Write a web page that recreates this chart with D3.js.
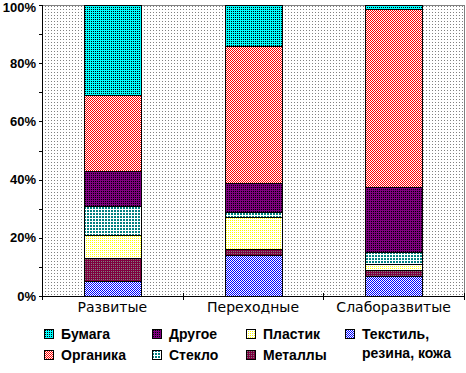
<!DOCTYPE html>
<html>
<head>
<meta charset="utf-8">
<script src="https://cdn.jsdelivr.net/npm/d3@7"></script>
<style>
  body { margin: 0; background: #fff; }
  text { font-family: "Liberation Sans", Arial, sans-serif; }
</style>
</head>
<body>
<script>
// categories and series (bottom to top in each bar)
const categories = ["Развитые", "Переходные", "Слаборазвитые"];
const seriesNames = ["Текстиль", "Металлы", "Пластик", "Стекло", "Другое", "Органика", "Бумага"];

const textile = [5, 14, 7];
const metals = [8, 2, 2];
const plastic = [8, 11, 2];
const glass = [10, 2, 4];
const other = [12, 10, 22.5];
const organic = [26, 47, 61];
const paper = [31, 14, 1.5];

const yTicks = [0, 0.1, 0.2, 0.3, 0.4, 0.5, 0.6, 0.7, 0.8, 0.9, 1];

const legendRows = [
    ["Бумага", "Другое", "Пластик", "Текстиль"],
    ["Органика", "Стекло", "Металлы"]
];
const legendLabels = {
    "Бумага": ["Бумага"],
    "Другое": ["Другое"],
    "Пластик": ["Пластик"],
    "Текстиль": ["Текстиль,", "резина, кожа"],
    "Органика": ["Органика"],
    "Стекло": ["Стекло"],
    "Металлы": ["Металлы"]
};

const table = categories.map((c, i) => ({
    category: c,
    "Текстиль": textile[i],
    "Металлы": metals[i],
    "Пластик": plastic[i],
    "Стекло": glass[i],
    "Другое": other[i],
    "Органика": organic[i],
    "Бумага": paper[i]
}));

const width = 466, height = 373;
const svg = d3.select("body").append("svg")
    .attr("width", width)
    .attr("height", height);

const defs = svg.append("defs");

// pixel patterns: background colour + list of [x, y, w, h, colour]
function makePattern(id, size, bg, cells) {
    const p = defs.append("pattern")
        .attr("id", id)
        .attr("patternUnits", "userSpaceOnUse")
        .attr("width", size[0])
        .attr("height", size[1]);
    p.append("rect").attr("width", size[0]).attr("height", size[1]).attr("fill", bg);
    cells.forEach(c => {
        p.append("rect")
            .attr("x", c[0]).attr("y", c[1])
            .attr("width", c[2]).attr("height", c[3])
            .attr("fill", c[4])
            .attr("shape-rendering", "crispEdges");
    });
}

makePattern("p-bg", [3, 3], "#ffffff", [[0, 0, 1, 1, "#808080"]]);
makePattern("p-Бумага", [2, 2], "#00ffff", [[1, 1, 1, 1, "#000000"]]);
makePattern("p-Органика", [2, 2], "#ffffff", [[0, 0, 1, 1, "#ff0000"], [1, 1, 1, 1, "#ff0000"]]);
makePattern("p-Другое", [2, 2], "#800080", [[1, 1, 1, 1, "#000000"]]);
makePattern("p-Стекло", [3, 3], "#ffffff", [[0, 0, 2, 2, "#008080"]]);
makePattern("p-Пластик", [2, 2], "#ffffff", [[0, 0, 1, 1, "#ffff00"]]);
makePattern("p-Металлы", [2, 2], "#800040", [[1, 1, 1, 1, "#808080"]]);
makePattern("p-Текстиль", [2, 2], "#ffffff", [[0, 0, 1, 1, "#0000ff"], [1, 1, 1, 1, "#0000ff"]]);

const plot = { left: 42, right: 464, top: 5, bottom: 296 };

const x = d3.scaleBand()
    .domain(categories)
    .range([plot.left, plot.right])
    .padding(0);

const y = d3.scaleLinear()
    .domain([0, 1])
    .range([plot.bottom, plot.top]);

// plot background and frame
svg.append("rect")
    .attr("x", plot.left)
    .attr("y", plot.top)
    .attr("width", plot.right - plot.left)
    .attr("height", plot.bottom - plot.top)
    .attr("fill", "url(#p-bg)");

svg.append("path")
    .attr("d", `M${plot.left},${plot.top + 0.5}H${plot.right + 0.5}V${plot.bottom}`)
    .attr("fill", "none")
    .attr("stroke", "#808080")
    .attr("shape-rendering", "crispEdges");

// stacked bars
const stack = d3.stack().keys(seriesNames).offset(d3.stackOffsetExpand);
const layers = stack(table);

const barWidth = 57;

svg.append("g").selectAll("g")
    .data(layers)
    .join("g")
    .attr("fill", d => `url(#p-${d.key})`)
    .selectAll("rect")
    .data(d => d)
    .join("rect")
    .attr("x", d => Math.round(x(d.data.category) + x.bandwidth() / 2 - barWidth / 2) + 0.5)
    .attr("y", d => Math.round(y(d[1])) + 0.5)
    .attr("width", barWidth)
    .attr("height", d => Math.round(y(d[0])) - Math.round(y(d[1])))
    .attr("stroke", "#000")
    .attr("stroke-width", 1)
    .attr("shape-rendering", "crispEdges");

// y axis
const yAxis = d3.axisLeft(y)
    .tickValues(yTicks)
    .tickSize(3)
    .tickPadding(3)
    .tickFormat(d => (Math.round(d * 100) % 20 === 0 ? Math.round(d * 100) + "%" : ""));

const yg = svg.append("g")
    .attr("transform", `translate(${plot.left},0)`)
    .call(yAxis);
yg.selectAll("path, line").attr("stroke", "#000").attr("shape-rendering", "crispEdges");
yg.selectAll("text")
    .attr("fill", "#000")
    .style("font-size", "13px")
    .style("font-weight", "bold");
yg.selectAll(".tick:last-of-type text").attr("dy", "0.5em");

// x axis with ticks on category boundaries
const xg = svg.append("g")
    .attr("transform", `translate(0,${plot.bottom})`);
xg.append("line")
    .attr("x1", plot.left).attr("x2", plot.right + 1)
    .attr("y1", 0.5).attr("y2", 0.5)
    .attr("stroke", "#000")
    .attr("shape-rendering", "crispEdges");
const boundaries = categories.map(c => x(c)).concat([plot.right]);
xg.selectAll("line.tick")
    .data(boundaries)
    .join("line")
    .attr("class", "tick")
    .attr("x1", d => Math.round(d) + 0.5).attr("x2", d => Math.round(d) + 0.5)
    .attr("y1", -3).attr("y2", 4)
    .attr("stroke", "#000")
    .attr("shape-rendering", "crispEdges");
xg.selectAll("text")
    .data(categories)
    .join("text")
    .attr("x", d => x(d) + x.bandwidth() / 2)
    .attr("y", 16)
    .attr("text-anchor", "middle")
    .style("font-family", "'DejaVu Sans', sans-serif")
    .style("font-size", "14px")
    .attr("fill", "#000")
    .text(d => d);

// legend
const legendCols = [44, 152, 246, 345];
const legendY = [329, 350];

legendRows.forEach((row, r) => {
    row.forEach((key, c) => {
        const g = svg.append("g")
            .attr("transform", `translate(${legendCols[c]},${legendY[r]})`);
        g.append("rect")
            .attr("x", 0.5).attr("y", 0.5)
            .attr("width", 9).attr("height", 9)
            .attr("fill", `url(#p-${key})`)
            .attr("stroke", "#000")
            .attr("shape-rendering", "crispEdges");
        g.selectAll("text")
            .data(legendLabels[key])
            .join("text")
            .attr("x", 17)
            .attr("y", (d, i) => 10 + i * 19)
            .style("font-size", "14px")
            .style("font-weight", "bold")
            .attr("fill", "#000")
            .text(d => d);
    });
});
</script>
</body>
</html>
